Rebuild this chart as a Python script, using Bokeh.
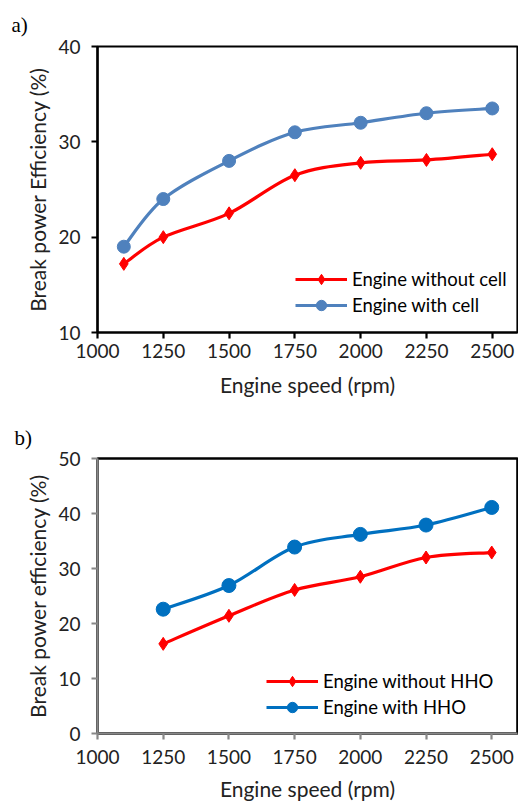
from bokeh.plotting import figure
from bokeh.layouts import column
from bokeh.models import Range1d, Title, Legend, LegendItem, FixedTicker
from bokeh.embed import file_html
from bokeh.resources import INLINE

# ---- data (a) ----
speed_a = [1100, 1250, 1500, 1750, 2000, 2250, 2500]
without_cell = [17.2, 20.0, 22.5, 26.5, 27.8, 28.1, 28.7]
with_cell = [19.0, 24.0, 28.0, 31.0, 32.0, 33.0, 33.5]

# ---- data (b) ----
speed_b = [1250, 1500, 1750, 2000, 2250, 2500]
without_hho = [16.3, 21.4, 26.1, 28.5, 32.0, 32.9]
with_hho = [22.6, 26.9, 33.9, 36.2, 37.9, 41.1]

x_ticks = [1000, 1250, 1500, 1750, 2000, 2250, 2500]
y_ticks_a = [10, 20, 30, 40]
y_ticks_b = [0, 10, 20, 30, 40, 50]

FONT = "Lato"
TXT = "#222222"


def smooth(xs, ys):
    """Bezier control points (Catmull-Rom style) through the data points."""
    n = len(xs)
    out = dict(x0=[], y0=[], x1=[], y1=[], cx0=[], cy0=[], cx1=[], cy1=[])
    for i in range(n - 1):
        xp, yp = (xs[i - 1], ys[i - 1]) if i > 0 else (xs[i], ys[i])
        xn2, yn2 = (xs[i + 2], ys[i + 2]) if i + 2 < n else (xs[i + 1], ys[i + 1])
        out["x0"].append(xs[i]); out["y0"].append(ys[i])
        out["x1"].append(xs[i + 1]); out["y1"].append(ys[i + 1])
        out["cx0"].append(xs[i] + (xs[i + 1] - xp) / 6)
        out["cy0"].append(ys[i] + (ys[i + 1] - yp) / 6)
        out["cx1"].append(xs[i + 1] - (xn2 - xs[i]) / 6)
        out["cy1"].append(ys[i + 1] - (yn2 - ys[i]) / 6)
    return out


def make_fig(h, left, top, bottom, xr, yr, yticks, axis_color, axis_w, outline_w, ylabel,
             tag, tag_standoff, xl_standoff, xa_standoff):
    p = figure(width=518, height=h, output_backend="svg", toolbar_location=None,
               x_range=Range1d(*xr), y_range=Range1d(*yr), title=None,
               min_border_left=left, min_border_right=1, min_border_top=top,
               min_border_bottom=bottom)
    p.add_layout(Title(text=tag, align="left", offset=-(left - 11), standoff=tag_standoff,
                       text_font="Liberation Serif", text_font_size="21px",
                       text_font_style="normal", text_color="black"), "above")
    p.xgrid.visible = False
    p.ygrid.visible = False
    p.outline_line_color = "black"
    p.outline_line_width = outline_w
    p.outline_line_alpha = 1
    for ax in (p.xaxis[0], p.yaxis[0]):
        ax.axis_line_color = axis_color
        ax.axis_line_width = axis_w
        ax.major_tick_line_color = axis_color
        ax.major_tick_line_width = axis_w
        ax.major_tick_out = 6
        ax.major_tick_in = 0
        ax.minor_tick_line_color = None
        ax.major_label_text_font = FONT
        ax.major_label_text_font_size = "19px"
        ax.major_label_text_color = TXT
        ax.axis_label_text_font = FONT
        ax.axis_label_text_font_size = "21px"
        ax.axis_label_text_font_style = "normal"
        ax.axis_label_text_color = TXT
    p.xaxis[0].ticker = FixedTicker(ticks=x_ticks)
    p.yaxis[0].ticker = FixedTicker(ticks=yticks)
    p.xaxis[0].axis_label = "Engine speed (rpm)"
    p.yaxis[0].axis_label = ylabel
    p.xaxis[0].major_label_standoff = xl_standoff
    p.xaxis[0].axis_label_standoff = xa_standoff
    p.yaxis[0].major_label_standoff = 11
    p.yaxis[0].axis_label_standoff = 5
    return p


def add_series(p, xs, ys, color, marker, size):
    r1 = p.bezier(source=smooth(xs, ys), x0="x0", y0="y0", x1="x1", y1="y1",
                  cx0="cx0", cy0="cy0", cx1="cx1", cy1="cy1",
                  line_color=color, line_width=3.2)
    r2 = p.scatter(xs, ys, marker=marker, size=size, fill_color=color, line_color=color)
    return [r1, r2]


# ---- figure a ----
pa = make_fig(400, 97, 45, 68, (1000, 2596), (10, 40), y_ticks_a, "black", 2.2, 2.2,
              "Break power Efficiency (%)", "a)", 20, 5, 11)
ra1 = add_series(pa, speed_a, without_cell, "#FF0000", "diamond", 13)
ra2 = add_series(pa, speed_a, with_cell, "#4F81BD", "circle", 13)
leg_a = Legend(items=[LegendItem(label="Engine without cell", renderers=ra1),
                      LegendItem(label="Engine with cell", renderers=ra2)],
               location=(198, 14))
pa.add_layout(leg_a)

# ---- figure b ----
pb = make_fig(403, 94, 58, 69, (1000, 2598), (0, 50), y_ticks_b, "#888888", 2.2, 2.6,
              "Break power efficiency (%)", "b)", 18, 10, 9)
rb1 = add_series(pb, speed_b, without_hho, "#FF0000", "diamond", 13)
rb2 = add_series(pb, speed_b, with_hho, "#0070C0", "circle", 14)
leg_b = Legend(items=[LegendItem(label="Engine without HHO", renderers=rb1),
                      LegendItem(label="Engine with HHO", renderers=rb2)],
               location=(169, 13))
pb.add_layout(leg_b)

for p in (pa, pb):
    lg = p.legend[0]
    lg.padding = 0
    lg.margin = 0
    lg.spacing = 0
    lg.glyph_width = 52
    lg.glyph_height = 26
    lg.label_height = 20
    lg.label_standoff = 5
    lg.background_fill_alpha = 0
    lg.border_line_color = None
    lg.label_text_font = FONT
    lg.label_text_font_size = "18.5px"
    lg.label_text_color = "black"

layout = column(pa, pb, spacing=0)
open("out.html", "w").write(file_html(layout, INLINE))
